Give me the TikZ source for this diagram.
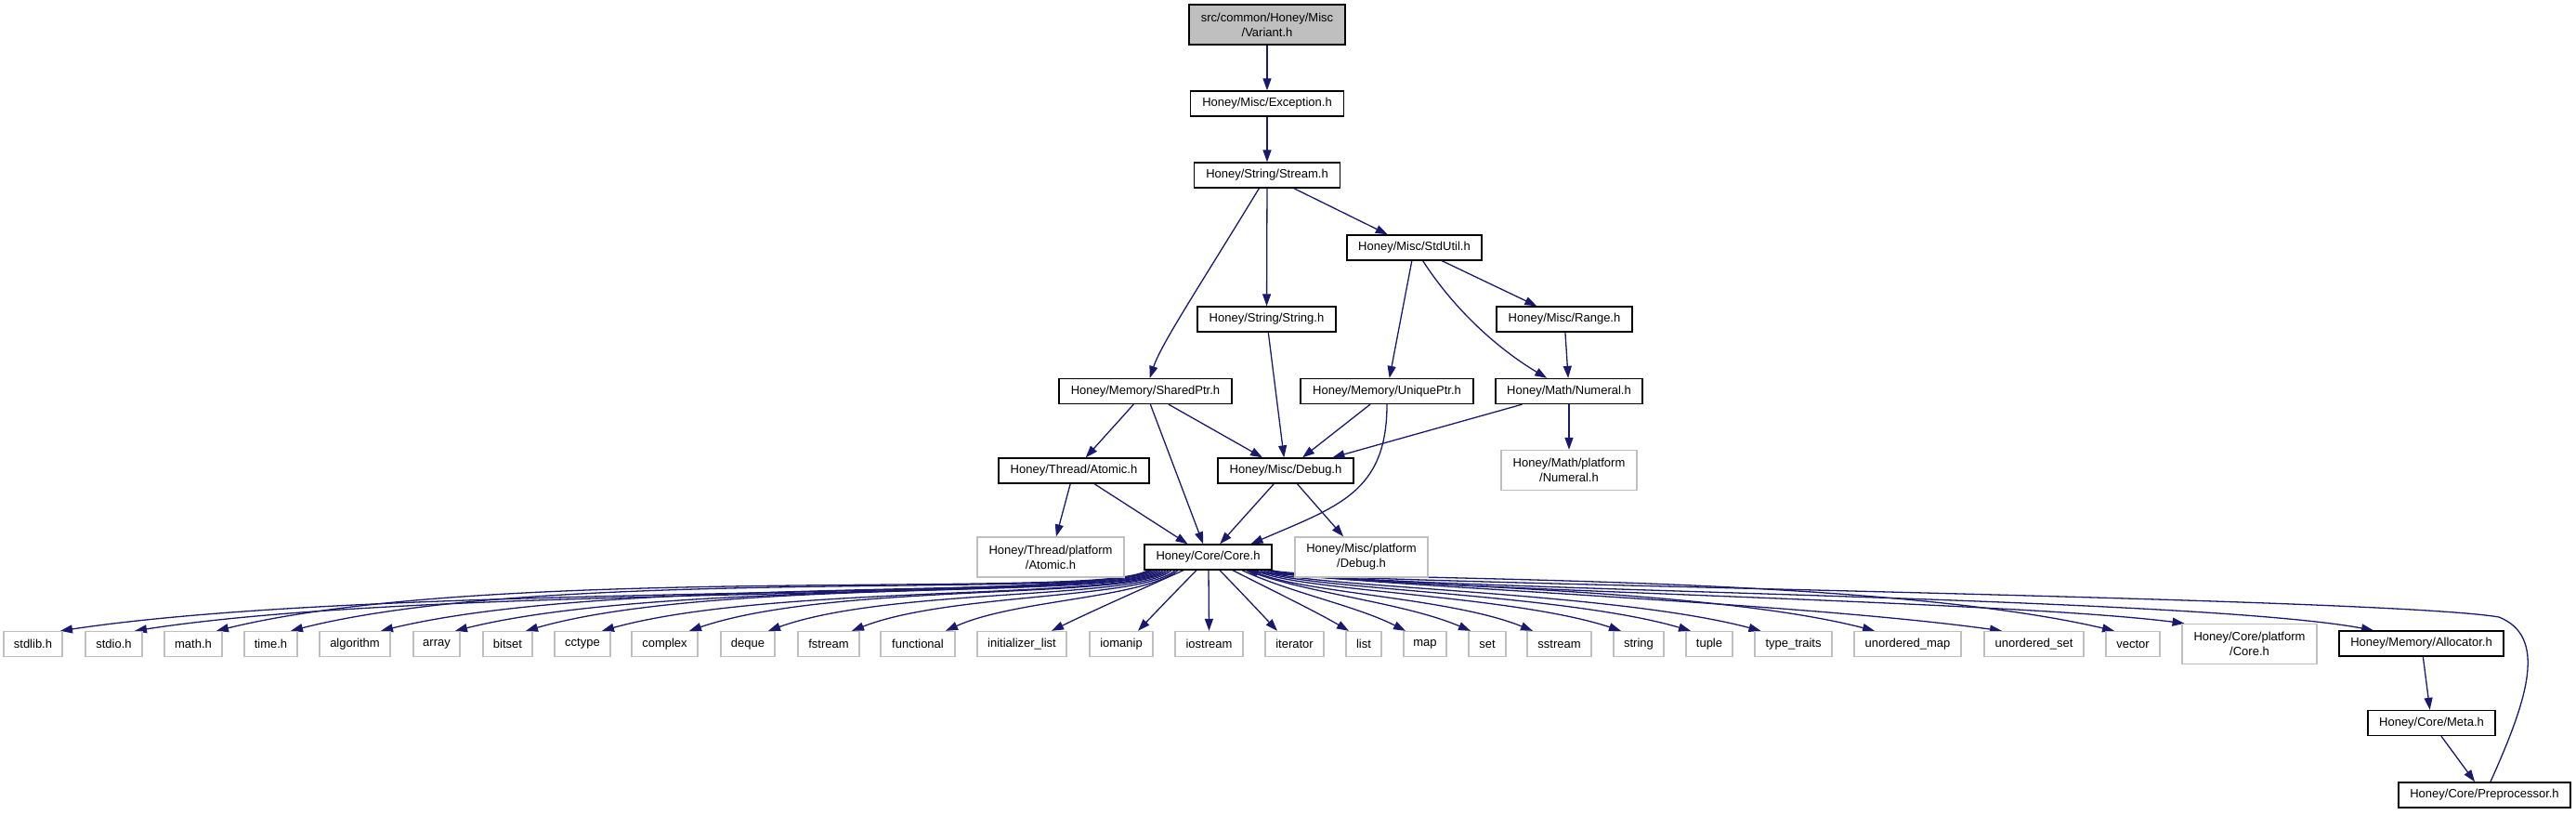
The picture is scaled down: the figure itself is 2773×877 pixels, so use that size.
\documentclass[tikz,border=0pt]{standalone}
\usepackage{fontspec}
\setmainfont{Liberation Sans}
\usetikzlibrary{arrows.meta, backgrounds}

\definecolor{edgeblue}{RGB}{25,25,112}
\definecolor{extgrey}{RGB}{191,191,191}

\begin{document}
\begin{tikzpicture}[
    x=1pt, y=-1pt,
    every node/.style={font=\fontsize{13}{16}\selectfont},
    hdr/.style={rectangle, draw=black, line width=1.3pt, fill=white, minimum height=27pt, inner sep=2pt, align=center},
    hdrtwo/.style={hdr, minimum height=43pt},
    ext/.style={hdr, draw=extgrey},
    exttwo/.style={hdrtwo, draw=extgrey},
    dep/.style={draw=edgeblue, line width=1.3pt, -{Triangle[length=13pt, width=9pt]}}
]
\useasboundingbox (0,0) rectangle (2773,877);

% ============ HONEY HEADERS ============
\node[hdrtwo, fill=extgrey, minimum width=168pt] (variant) at (1364, 26.5) {src/common/Honey/Misc\\/Variant.h};
\node[hdr, minimum width=165pt] (exception) at (1364, 111.5) {Honey/Misc/Exception.h};
\node[hdr, minimum width=157pt] (stream) at (1364, 188.5) {Honey/String/Stream.h};
\node[hdr, minimum width=145pt] (stdutil) at (1522.5, 266.5) {Honey/Misc/StdUtil.h};
\node[hdr, minimum width=149pt] (honeystring) at (1363.5, 343.5) {Honey/String/String.h};
\node[hdr, minimum width=146pt] (range) at (1684, 343.5) {Honey/Misc/Range.h};
\node[hdr, minimum width=186pt] (sharedptr) at (1233, 421) {Honey/Memory/SharedPtr.h};
\node[hdr, minimum width=186pt] (uniqueptr) at (1493, 421) {Honey/Memory/UniquePtr.h};
\node[hdr, minimum width=158pt] (numeral) at (1689, 421) {Honey/Math/Numeral.h};
\node[exttwo, minimum width=146pt] (numeralplat) at (1689, 506) {Honey/Math/platform\\/Numeral.h};
\node[hdr, minimum width=162pt] (atomic) at (1156, 506.5) {Honey/Thread/Atomic.h};
\node[hdr, minimum width=146pt] (debug) at (1384, 506.5) {Honey/Misc/Debug.h};
\node[exttwo, minimum width=158pt] (atomicplat) at (1131, 599.5) {Honey/Thread/platform\\/Atomic.h};
\node[hdr, minimum width=137pt] (core) at (1300.5, 599.5) {Honey/Core/Core.h};
\node[exttwo, minimum width=143pt] (debugplat) at (1465.5, 599.5) {Honey/Misc/platform\\/Debug.h};
\node[exttwo, minimum width=145pt] (coreplat) at (2421.5, 693) {Honey/Core/platform\\/Core.h};
\node[hdr, minimum width=177pt] (allocator) at (2606.5, 692.5) {Honey/Memory/Allocator.h};
\node[hdr, minimum width=137pt] (meta) at (2617.5, 778) {Honey/Core/Meta.h};
\node[hdr, minimum width=185pt] (preproc) at (2674.5, 855.5) {Honey/Core/Preprocessor.h};

% ============ HONEY INCLUDES ============
\draw[dep] (variant) -- (exception);
\draw[dep] (exception) -- (stream);
\draw[dep] (stream) .. controls (1290,310) and (1250,370) .. (sharedptr);
\draw[dep] (stream) -- (honeystring);
\draw[dep] (stream) -- (stdutil);
\draw[dep] (stdutil) -- (uniqueptr);
\draw[dep] (stdutil) .. controls (1570,340) and (1620,380) .. (numeral);
\draw[dep] (stdutil) -- (range);
\draw[dep] (range) -- (numeral);
\draw[dep] (honeystring) -- (debug);
\draw[dep] (sharedptr) -- (atomic);
\draw[dep] (sharedptr) -- (core);
\draw[dep] (sharedptr) -- (debug);
\draw[dep] (uniqueptr) -- (debug);
\draw[dep] (uniqueptr.south) .. controls (1493,530) and (1440,545) .. ([xshift=46pt]core.north);
\draw[dep] (numeral) -- (debug);
\draw[dep] (numeral) -- (numeralplat);
\draw[dep] (atomic) -- (atomicplat);
\draw[dep] (atomic) -- (core);
\draw[dep] (debug) -- (core);
\draw[dep] (debug) -- (debugplat);
\draw[dep] (allocator) -- (meta);
\draw[dep] (meta) -- (preproc);

% ============ STANDARD HEADERS ============
\foreach \n/\lbl/\x/\w/\s/\e/\f/\a/\b in {
    stdlib/stdlib.h/35.5/63/1236/29.5/0.05/648/626,
    stdio/stdio.h/122.5/61/1238/22.5/0.05/648/628,
    math/math.h/208/62/1240/25/0.05/646/605,
    time/time.h/291.5/57/1243/21.5/0.05/646/608,
    algorithm/algorithm/382/76/1246/28/0.05/646/618,
    array/array/470/50/1249/20/0.05/646/622,
    bitset/bitset/546.5/53/1252/19.5/0.05/646/620,
    cctype/cctype/627/60/1255/21/0.06/646/628,
    complex/complex/715.5/71/1258/26.5/0.07/646/626,
    deque/deque/805/58/1261/22/0.08/646/632,
    fstream/fstream/892/66/1265/25/0.1/645/638,
    functional/functional/988/80/1268/30/0.15/644/645,
    initlist/initializer\_list/1100/96/1274/32/0.35/636/658,
    iomanip/iomanip/1207/68/1288/18/0.35/636/659,
    iostream/iostream/1301.5/73/1301/0/0.35/636/659,
    iterator/iterator/1393.5/63/1313/-18.5/0.35/636/659,
    list/list/1468/38/1327/-16/0.35/636/657,
    map/map/1534/46/1337/-21/0.3/638/652,
    set/set/1601/40/1342/-18/0.25/638/648,
    sstream/sstream/1678.5/69/1347/-28.5/0.15/638/642,
    string/string/1764/54/1352/-19/0.1/636/640,
    tuple/tuple/1840/50/1356/-20/0.08/634/638,
    typetraits/type\_traits/1930.5/83/1360/-35/0.06/632/636,
    umap/unordered\_map/2053.5/115/1364/-35.5/0.05/630/628,
    uset/unordered\_set/2189.5/107/1366/-34.5/0.05/628/646,
    vector/vector/2296/58/1368/-20/0.05/626/615}{
  \node[ext, minimum width=\w pt] (\n) at (\x, 693) {\lbl};
  \pgfmathsetmacro\endx{\x+(\e)}
  \pgfmathsetmacro\startoff{\s-1300.5}
  \pgfmathsetmacro\ctrla{\s+\f*(\endx-\s)}
  \pgfmathsetmacro\ctrlb{\endx-0.3*(\endx-\s)}
  \begin{scope}[on background layer]
    \draw[dep] ([xshift=\startoff pt]core.south) .. controls (\ctrla,\a) and (\ctrlb,\b) .. ([xshift=\e pt]\n.north);
  \end{scope}
}

% ============ CORE FAN, RIGHT END ============
\begin{scope}[on background layer]
  \draw[dep] ([xshift=66pt]core.south) .. controls (1430,633) and (2150,645) .. ([xshift=-70pt]coreplat.north);
  \draw[dep] ([xshift=68pt]core.south) .. controls (1440,635) and (2350,640) .. ([xshift=-51.5pt]allocator.north);
  % back edge
  \draw[dep] (preproc) .. controls (2722,750) and (2742,685) .. (2690,664)
             .. controls (2560,642) and (1430,628) .. ([xshift=40pt]core.south);
\end{scope}

\end{tikzpicture}
\end{document}
